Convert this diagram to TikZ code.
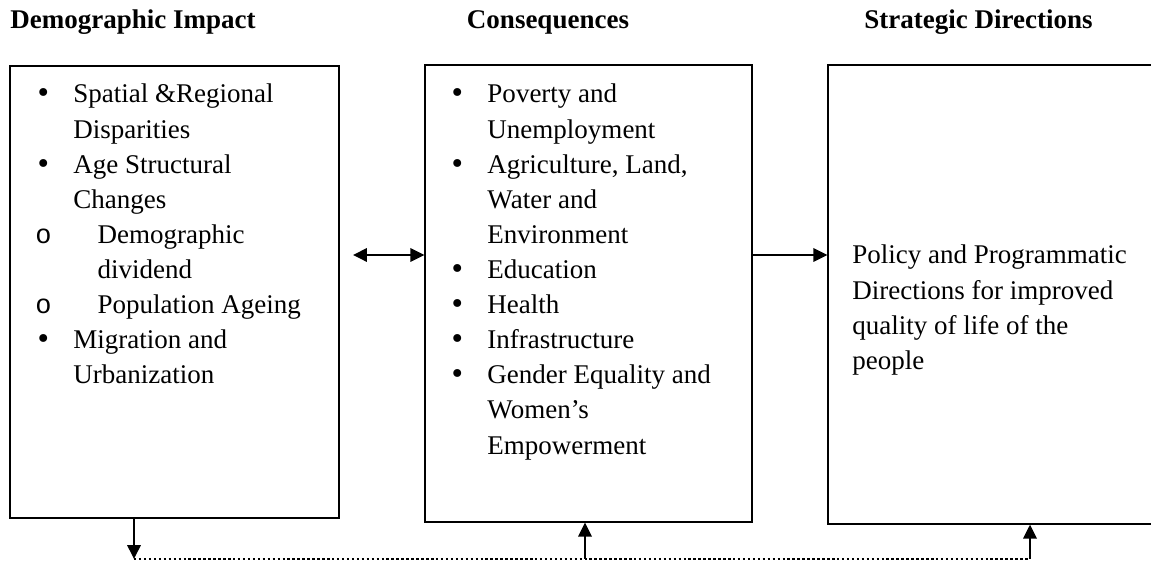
\documentclass[tikz,border=0pt]{standalone}
\usepackage{fontspec}
\setmainfont{Liberation Serif}
\setmonofont{Liberation Mono}
\newfontfamily\bulletfont{DejaVu Sans}
\usetikzlibrary{arrows.meta,fit}

\newcommand{\blt}{{\bulletfont •}}

\begin{document}
\begin{tikzpicture}[x=0.4444pt,y=-0.4444pt,
    box/.style={draw,line width=0.6pt,inner sep=0pt},
    head/.style={font=\fontsize{12}{14}\selectfont\bfseries,inner sep=0pt},
    list/.style={font=\fontsize{12}{15.6}\selectfont,inner sep=0pt,anchor=base west},
    link/.style={line width=0.8pt,-{Triangle[length=6.2pt,width=6pt]}},
    backloop/.style={line width=1.1pt,dash pattern=on 1.1pt off 1.1pt}]
    \useasboundingbox (0,0) rectangle (1151,564);

    % headings
    \node[head,anchor=base west] (hdem) at (10,29) {Demographic Impact};
    \node[head,anchor=base] (hcons) at (548,29) {Consequences};
    \node[head,anchor=base west] (hstrat) at (864,29) {Strategic Directions};

    % the three boxes
    \node[box,fit={(10,66) (339,518)}] (dem) {};
    \node[box,fit={(425,65) (752,522)}] (cons) {};
    \node[box,fit={(828,65) (1160,524)}] (strat) {};

    \node[list] (demtext) at (35,103) {\begin{tabular}[t]{@{}p{16.9pt}@{}l@{}}
        \blt        & Spatial \&Regional\\
                    & Disparities\\
        \blt        & Age Structural\\
                    & Changes\\
        \texttt{o}  & \hspace{10.7pt}Demographic\\
                    & \hspace{10.7pt}dividend\\
        \texttt{o}  & \hspace{10.7pt}Population Ageing\\
        \blt        & Migration and\\
                    & Urbanization
    \end{tabular}};

    \node[list] (constext) at (449,103) {\begin{tabular}[t]{@{}p{16.9pt}@{}l@{}}
        \blt & Poverty and\\
             & Unemployment\\
        \blt & Agriculture, Land,\\
             & Water and\\
             & Environment\\
        \blt & Education\\
        \blt & Health\\
        \blt & Infrastructure\\
        \blt & Gender Equality and\\
             & Women’s\\
             & Empowerment
    \end{tabular}};

    \node[list] (strattext) at (852,264) {\begin{tabular}[t]{@{}l@{}}
        Policy and Programmatic\\
        Directions for improved\\
        quality of life of the\\
        people
    \end{tabular}};

    % arrows between the boxes
    \coordinate (dl) at (353,255);
    \draw[link,{Triangle[length=6.2pt,width=6pt]}-{Triangle[length=6.2pt,width=6pt]}] (dl) -- (dl -| cons.west);
    \draw[link] (cons.east |- dl) -- (strat.west |- dl);

    % feedback line at the bottom
    \coordinate (fb1) at (134,559);
    \coordinate (fb2) at (585,559);
    \coordinate (fb3) at (1030,559);
    \draw[link] (dem.south -| fb1) -- (fb1);
    \draw[backloop] (fb1) -- (fb3);
    \draw[link] (fb2) -- (fb2 |- cons.south);
    \draw[link] (fb3) -- (fb3 |- strat.south);
\end{tikzpicture}
\end{document}
